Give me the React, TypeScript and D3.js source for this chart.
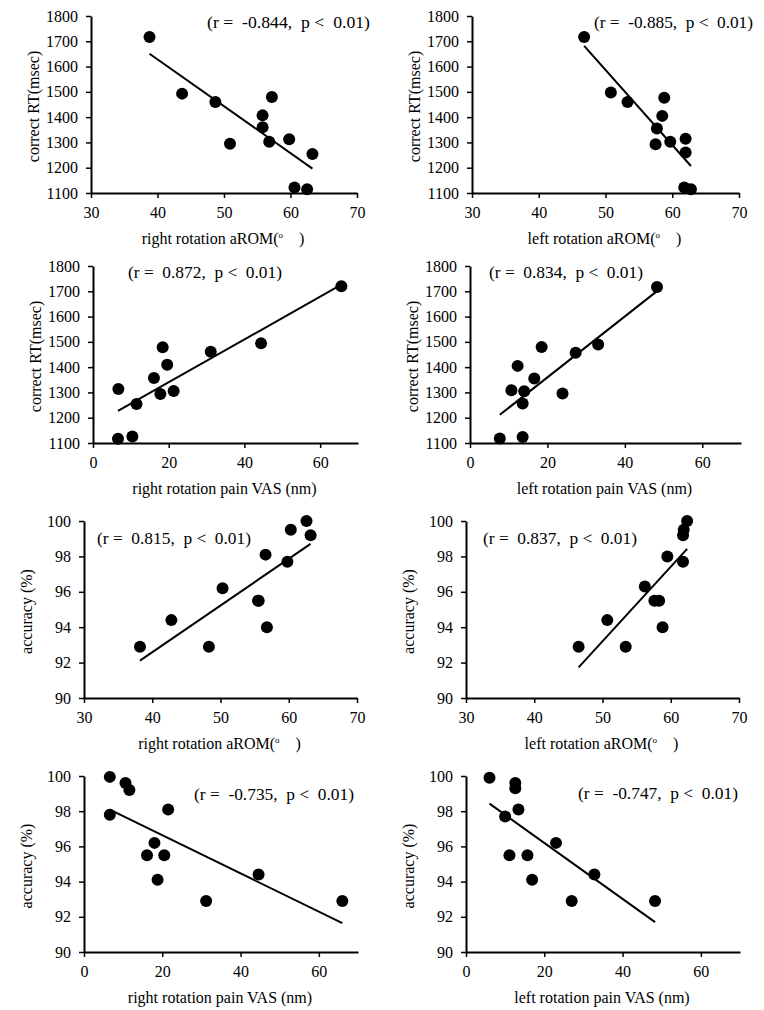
import { useEffect, useRef } from "react";
import * as d3 from "d3";

// tick labels
const rtTicks = [1100, 1200, 1300, 1400, 1500, 1600, 1700, 1800];
const accTicks = [90, 92, 94, 96, 98, 100];
const romTicks = [30, 40, 50, 60, 70];
const vasTicks = [0, 20, 40, 60];

// correct RT vs right / left rotation aROM
const rtRightRomX = [38.8, 43.7, 48.7, 50.9, 55.8, 55.8, 57.2, 56.8, 59.8, 63.3, 60.6, 62.5];
const rtRightRomY = [1717, 1493, 1460, 1295, 1407, 1360, 1480, 1303, 1313, 1254, 1122, 1115];
const rtLeftRomX = [46.8, 50.8, 53.3, 57.5, 58.5, 57.7, 58.8, 59.7, 62.0, 62.0, 61.8, 62.8];
const rtLeftRomY = [1717, 1497, 1460, 1293, 1405, 1355, 1477, 1303, 1315, 1260, 1122, 1115];

// correct RT vs right / left rotation pain VAS
const rtRightVasX = [65.6, 44.4, 31.1, 18.4, 19.6, 16.1, 17.8, 21.3, 6.7, 11.5, 6.6, 10.4];
const rtRightVasY = [1720, 1494, 1461, 1479, 1409, 1357, 1294, 1306, 1314, 1254, 1117, 1126];
const rtLeftVasX = [48.3, 33.1, 27.3, 18.5, 12.3, 16.6, 10.7, 14.0, 23.9, 13.6, 7.7, 13.6];
const rtLeftVasY = [1717, 1490, 1457, 1480, 1405, 1355, 1309, 1305, 1296, 1256, 1118, 1124];

// accuracy vs right / left rotation aROM
const accRightRomX = [38.2, 42.8, 48.3, 50.3, 55.5, 55.6, 56.6, 56.8, 59.8, 60.3, 62.6, 63.2];
const accRightRomY = [92.9, 94.4, 92.9, 96.2, 95.5, 95.5, 98.1, 94.0, 97.7, 99.5, 100, 99.2];
const accLeftRomX = [46.5, 50.7, 53.4, 56.2, 57.6, 58.3, 59.5, 58.8, 61.8, 61.8, 61.9, 62.4];
const accLeftRomY = [92.9, 94.4, 92.9, 96.3, 95.5, 95.5, 98.0, 94.0, 97.7, 99.2, 99.5, 100];

// accuracy vs right / left rotation pain VAS
const accRightVasX = [6.6, 10.6, 11.6, 6.6, 21.5, 18.0, 16.1, 20.5, 18.8, 31.2, 44.6, 66.0];
const accRightVasY = [99.95, 99.6, 99.2, 97.8, 98.1, 96.2, 95.5, 95.5, 94.1, 92.9, 94.4, 92.9];
const accLeftVasX = [6.0, 12.6, 12.6, 13.4, 10.0, 11.1, 15.7, 23.0, 16.9, 27.0, 32.8, 48.3];
const accLeftVasY = [99.9, 99.6, 99.3, 98.1, 97.7, 95.5, 95.5, 96.2, 94.1, 92.9, 94.4, 92.9];

const notes = [
  "(r =  -0.844,  p <  0.01)",
  "(r =  -0.885,  p <  0.01)",
  "(r =  0.872,  p <  0.01)",
  "(r =  0.834,  p <  0.01)",
  "(r =  0.815,  p <  0.01)",
  "(r =  0.837,  p <  0.01)",
  "(r =  -0.735,  p <  0.01)",
  "(r =  -0.747,  p <  0.01)",
];

const FONT = "'Liberation Serif', 'Times New Roman', serif";

interface Panel {
  xs: number[];
  ys: number[];
  xDomain: [number, number];
  xTicks: number[];
  yDomain: [number, number];
  yTicks: number[];
  xRange: [number, number];
  yRange: [number, number];
  note: string;
  noteX: number;
  noteY: number;
  noteLen: number;
  yLabel: string;
  xLabel: string;
  degree?: boolean;
}

const panels: Panel[] = [
  {
    xs: rtRightRomX, ys: rtRightRomY, xDomain: [30, 70], xTicks: romTicks, yDomain: [1100, 1800], yTicks: rtTicks,
    xRange: [91, 357], yRange: [193, 16], note: notes[0], noteX: 207, noteY: 28, noteLen: 163,
    yLabel: "correct RT(msec)", xLabel: "right rotation aROM(", degree: true,
  },
  {
    xs: rtLeftRomX, ys: rtLeftRomY, xDomain: [30, 70], xTicks: romTicks, yDomain: [1100, 1800], yTicks: rtTicks,
    xRange: [472, 739], yRange: [193, 16], note: notes[1], noteX: 594, noteY: 28, noteLen: 159,
    yLabel: "correct RT(msec)", xLabel: "left rotation aROM(", degree: true,
  },
  {
    xs: rtRightVasX, ys: rtRightVasY, xDomain: [0, 70], xTicks: vasTicks, yDomain: [1100, 1800], yTicks: rtTicks,
    xRange: [93, 358], yRange: [443, 266], note: notes[2], noteX: 128, noteY: 278, noteLen: 154,
    yLabel: "correct RT(msec)", xLabel: "right rotation pain VAS (nm)",
  },
  {
    xs: rtLeftVasX, ys: rtLeftVasY, xDomain: [0, 70], xTicks: vasTicks, yDomain: [1100, 1800], yTicks: rtTicks,
    xRange: [470, 741], yRange: [443, 266], note: notes[3], noteX: 489, noteY: 278, noteLen: 154,
    yLabel: "correct RT(msec)", xLabel: "left rotation pain VAS (nm)",
  },
  {
    xs: accRightRomX, ys: accRightRomY, xDomain: [30, 70], xTicks: romTicks, yDomain: [90, 100], yTicks: accTicks,
    xRange: [84, 357], yRange: [698, 521], note: notes[4], noteX: 97, noteY: 544, noteLen: 154,
    yLabel: "accuracy (%)", xLabel: "right rotation aROM(", degree: true,
  },
  {
    xs: accLeftRomX, ys: accLeftRomY, xDomain: [30, 70], xTicks: romTicks, yDomain: [90, 100], yTicks: accTicks,
    xRange: [466, 739], yRange: [698, 521], note: notes[5], noteX: 483, noteY: 544, noteLen: 154,
    yLabel: "accuracy (%)", xLabel: "left rotation aROM(", degree: true,
  },
  {
    xs: accRightVasX, ys: accRightVasY, xDomain: [0, 70], xTicks: vasTicks, yDomain: [90, 100], yTicks: accTicks,
    xRange: [84, 358], yRange: [952, 776], note: notes[6], noteX: 194, noteY: 800, noteLen: 160,
    yLabel: "accuracy (%)", xLabel: "right rotation pain VAS (nm)",
  },
  {
    xs: accLeftVasX, ys: accLeftVasY, xDomain: [0, 70], xTicks: vasTicks, yDomain: [90, 100], yTicks: accTicks,
    xRange: [466, 740], yRange: [952, 776], note: notes[7], noteX: 578, noteY: 799, noteLen: 160,
    yLabel: "accuracy (%)", xLabel: "left rotation pain VAS (nm)",
  },
];

function fit(xs: number[], ys: number[]) {
  const mx = d3.mean(xs)!;
  const my = d3.mean(ys)!;
  let sxy = 0;
  let sxx = 0;
  xs.forEach((x, i) => {
    sxy += (x - mx) * (ys[i] - my);
    sxx += (x - mx) * (x - mx);
  });
  const slope = sxy / sxx;
  return (x: number) => my + slope * (x - mx);
}

export default function App() {
  const svgRef = useRef<SVGSVGElement>(null);

  useEffect(() => {
    const svg = d3.select(svgRef.current);
    svg.selectAll("*").remove();

    panels.forEach((p) => {
      const g = svg.append("g");
      const x = d3.scaleLinear().domain(p.xDomain).range(p.xRange);
      const y = d3.scaleLinear().domain(p.yDomain).range(p.yRange);
      const fmt = d3.format("d");

      const xAxis = g
        .append("g")
        .attr("transform", `translate(0,${p.yRange[0]})`)
        .call(d3.axisBottom(x).tickValues(p.xTicks).tickFormat(fmt as any).tickSize(5).tickSizeOuter(0).tickPadding(9));
      const yAxis = g
        .append("g")
        .attr("transform", `translate(${p.xRange[0]},0)`)
        .call(d3.axisLeft(y).tickValues(p.yTicks).tickFormat(fmt as any).tickSize(5).tickSizeOuter(0).tickPadding(8));

      [xAxis, yAxis].forEach((a) => {
        a.attr("font-family", FONT).attr("font-size", 16);
        a.select(".domain").attr("stroke", "#000").attr("stroke-width", 2);
        a.selectAll(".tick line").attr("stroke", "#000").attr("stroke-width", 1.5);
        a.selectAll("text").attr("font-family", FONT).attr("font-size", 16).attr("fill", "#000");
      });

      // regression line
      const f = fit(p.xs, p.ys);
      const [x0, x1] = d3.extent(p.xs) as [number, number];
      g.append("path")
        .datum([x0, x1])
        .attr("fill", "none")
        .attr("stroke", "#000")
        .attr("stroke-width", 2)
        .attr("d", d3.line<number>().x((d) => x(d)).y((d) => y(f(d))));

      g.selectAll("circle")
        .data(p.xs)
        .join("circle")
        .attr("cx", (d) => x(d))
        .attr("cy", (_, i) => y(p.ys[i]))
        .attr("r", 6)
        .attr("fill", "#000");

      g.append("text")
        .attr("x", p.noteX)
        .attr("y", p.noteY)
        .attr("font-family", FONT)
        .attr("font-size", 16)
        .attr("textLength", p.noteLen)
        .attr("lengthAdjust", "spacingAndGlyphs")
        .style("white-space", "pre")
        .text(p.note);

      const cy = (p.yRange[0] + p.yRange[1]) / 2 + 2;
      g.append("text")
        .attr("transform", `translate(${p.xRange[0] - 52},${cy}) rotate(-90)`)
        .attr("text-anchor", "middle")
        .attr("font-family", FONT)
        .attr("font-size", 16)
        .text(p.yLabel);

      const cx = (p.xRange[0] + p.xRange[1]) / 2 - 1;
      const lab = g
        .append("text")
        .attr("x", cx)
        .attr("y", p.yRange[0] + 51)
        .attr("text-anchor", "middle")
        .attr("font-family", FONT)
        .attr("font-size", 16)
        .style("white-space", "pre");
      lab.append("tspan").text(p.xLabel);
      if (p.degree) {
        lab.append("tspan").attr("font-size", 9).attr("dy", -6).text("o");
        lab.append("tspan").attr("dy", 6).text("    )");
      }
    });
  }, []);

  return (
    <svg
      ref={svgRef}
      width={764}
      height={1010}
      style={{ position: "absolute", left: 0, top: 0, background: "#fff" }}
    />
  );
}
